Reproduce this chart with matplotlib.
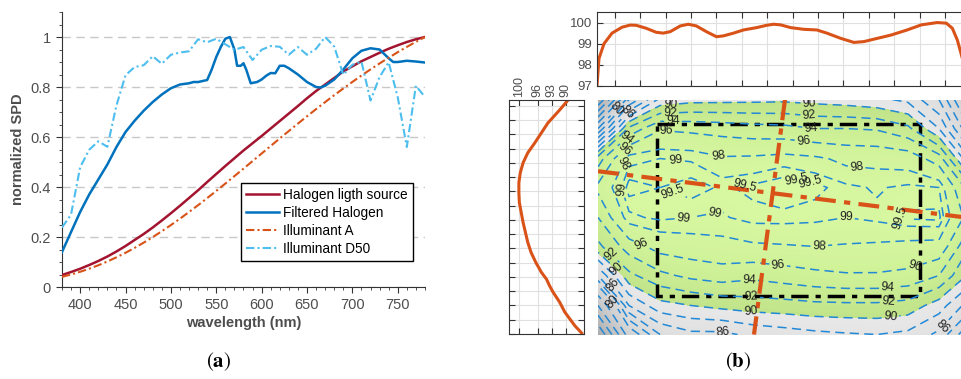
import numpy as np
import matplotlib.pyplot as plt
from matplotlib.colors import LinearSegmentedColormap
from matplotlib.patches import Rectangle

plt.rcParams['font.family'] = ['Liberation Sans', 'DejaVu Sans']

# ---------------- panel (a): normalized spectra ----------------
wl = np.arange(380, 781, 10)
halogen = [0.048, 0.060, 0.073, 0.088, 0.104, 0.122, 0.142, 0.164, 0.188, 0.212,
           0.238, 0.266, 0.295, 0.325, 0.356, 0.387, 0.420, 0.452, 0.484, 0.515,
           0.546, 0.575, 0.604, 0.634, 0.664, 0.694, 0.724, 0.755, 0.784, 0.810,
           0.836, 0.862, 0.883, 0.903, 0.920, 0.937, 0.953, 0.967, 0.980, 0.991, 1.0]
illum_a = [0.0405, 0.0500, 0.0609, 0.0732, 0.0869, 0.1021, 0.1188, 0.1369, 0.1564, 0.1774,
           0.1996, 0.2231, 0.2477, 0.2733, 0.3000, 0.3274, 0.3556, 0.3844, 0.4138, 0.4435,
           0.4735, 0.5037, 0.5339, 0.5642, 0.5943, 0.6241, 0.6537, 0.6828, 0.7115, 0.7397,
           0.7673, 0.7941, 0.8203, 0.8458, 0.8704, 0.8943, 0.9172, 0.9393, 0.9604, 0.9807, 1.0]
illum_d50 = [0.238, 0.290, 0.479, 0.549, 0.583, 0.561, 0.726, 0.847, 0.880, 0.887,
             0.923, 0.893, 0.929, 0.938, 0.943, 0.991, 0.979, 0.993, 0.971, 0.949,
             0.960, 0.908, 0.949, 0.964, 0.961, 0.929, 0.960, 0.929, 0.953, 1.0,
             0.962, 0.849, 0.889, 0.902, 0.746, 0.840, 0.899, 0.759, 0.560, 0.805, 0.760]

wl_filt = [380, 390, 400, 410, 420, 430, 440, 450, 460, 470, 480, 490, 500, 510, 520,
           525, 530, 540, 545, 550, 555, 560, 565, 570, 573, 577, 580, 583, 588, 595,
           600, 605, 610, 615, 620, 625, 630, 640, 650, 660, 665, 670, 680, 690, 700,
           710, 720, 730, 740, 745, 750, 760, 770, 780]
filtered = [0.14, 0.22, 0.30, 0.37, 0.43, 0.49, 0.56, 0.62, 0.665, 0.705, 0.74, 0.77,
            0.795, 0.81, 0.815, 0.82, 0.82, 0.828, 0.87, 0.92, 0.96, 0.993, 1.0, 0.95,
            0.885, 0.885, 0.895, 0.87, 0.815, 0.82, 0.83, 0.845, 0.856, 0.855, 0.885,
            0.885, 0.875, 0.85, 0.82, 0.80, 0.798, 0.805, 0.83, 0.87, 0.915, 0.945,
            0.955, 0.95, 0.915, 0.90, 0.90, 0.905, 0.902, 0.898]

# ---------------- panel (b): uniformity map (%) ----------------
map_u = [0, 31, 62, 93, 124, 155, 186, 217, 248, 279, 310, 341, 372]
map_v = [0, 29, 59, 88, 118, 147, 176, 206, 235]
map_vals = [
    [60, 82, 88.5, 89.3, 89.4, 89.5, 89.6, 89.3, 89.0, 88.5, 87.5, 84, 76],
    [80, 92.5, 95.8, 95.5, 95.2, 94.8, 94.6, 94.0, 94.0, 93.8, 92.5, 88, 80],
    [93, 98.7, 99.0, 98.9, 98.2, 98.3, 98.6, 98.3, 97.6, 97.5, 97.2, 95, 86],
    [96.5, 99.8, 99.5, 99.8, 99.4, 99.65, 100, 99.7, 99.2, 98.9, 99.2, 99.0, 93],
    [94, 98.8, 99.2, 99.0, 98.9, 99.3, 99.3, 99.2, 99.0, 99.2, 99.6, 99.7, 95],
    [91.5, 95, 96.8, 97.2, 97.5, 97.8, 97.9, 98.0, 97.9, 97.8, 97.6, 97.5, 92],
    [84, 91.5, 93.5, 94.5, 95, 94.5, 95.0, 95.5, 95.8, 95.8, 95.5, 94, 89.5],
    [72, 86, 89.3, 90.0, 90.6, 91.0, 91.2, 91.5, 91.6, 91.6, 91.2, 89, 85],
    [60, 78, 84, 85.5, 85.5, 86.5, 87, 87.5, 87.8, 88, 87.5, 85.5, 80],
]
plain_levels = [60, 64, 68, 72, 76, 82, 84, 88]
label_levels = [80, 86, 90, 92, 94, 96, 98, 99, 99.5]
# where the contour labels sit on the map (u, v)
label_spots = [(20, 11), (6, 210), (30, 14), (126, 228), (343, 225),
               (72, 3), (211, 9), (18, 183), (153, 210), (293, 222),
               (72, 11), (211, 18), (18, 170), (153, 198), (291, 208),
               (75, 20), (213, 29), (16, 152), (151, 178), (290, 190),
               (68, 30), (28, 38), (205, 46), (45, 142), (180, 167), (318, 172),
               (27, 51), (121, 53), (258, 74), (86, 125), (221, 143),
               (25, 64), (78, 61), (213, 78), (115, 104), (248, 118),
               (26, 89), (75, 91), (146, 83), (208, 89), (298, 117)]

# profile along the horizontal section
prof_h_u = [0, 2, 7, 15, 25, 33, 39, 49, 59, 66, 73, 83, 91, 99, 109, 119, 126, 136,
            146, 159, 169, 176, 183, 193, 206, 219, 229, 243, 256, 266, 279, 293, 309,
            323, 339, 348, 354, 359, 364, 372]
prof_h_val = [97.0, 98.3, 99.0, 99.5, 99.78, 99.88, 99.87, 99.73, 99.54, 99.5, 99.57,
              99.84, 99.92, 99.84, 99.57, 99.33, 99.37, 99.5, 99.65, 99.76, 99.87, 99.92,
              99.89, 99.76, 99.68, 99.65, 99.5, 99.25, 99.06, 99.1, 99.25, 99.41, 99.65,
              99.89, 100.0, 99.97, 99.73, 99.17, 98.3, 96.8]
# profile along the vertical section
prof_v_v = [0, 10, 23, 33, 43, 53, 63, 73, 83, 93, 103, 113, 123, 133, 143, 153, 163,
            173, 180, 187, 193, 203, 213, 220, 227, 234]
prof_v_val = [89.5, 91.3, 93.8, 95.2, 96.6, 98.1, 99.1, 99.7, 100, 100, 99.9, 99.5, 99.1,
              98.6, 98.1, 97.4, 96.4, 95.2, 94.1, 93.4, 92.7, 91.3, 90.2, 89.1, 88, 86.6]

# section lines and region of interest on the map
sec_h_u, sec_h_v = [0, 372], [71.7, 118.5]
sec_v_u, sec_v_v = [187, 156], [0, 235]
roi_u = [58.7, 322.0]
roi_v = [24.3, 196.7]

# ---------------- figure ----------------
fig = plt.figure(figsize=(9.61, 3.79), dpi=100)
tick_c = '#4d4d4d'
spine_c = '#333333'
orange = '#d95319'

ax = fig.add_axes([0.0645, 0.2427, 0.3777, 0.7256])
ax.plot(wl, halogen, color='#a2142f', lw=1.8, label='Halogen ligth source', zorder=3)
ax.plot(wl_filt, filtered, color='#0072bd', lw=1.8, label='Filtered Halogen', zorder=3)
ax.plot(wl, illum_a, color=orange, lw=1.5, ls=(0, (4, 1.5, 1, 1.5)), label='Illuminant A', zorder=3)
ax.plot(wl, illum_d50, color='#4dbeee', lw=1.5, ls=(0, (4, 1.5, 1, 1.5)), label='Illuminant D50', zorder=3)
ax.set_xlim(380, 780)
ax.set_ylim(0, 1.1)
ax.set_yticks([0, 0.2, 0.4, 0.6, 0.8, 1.0])
ax.set_yticklabels(['0', '0.2', '0.4', '0.6', '0.8', '1'])
ax.set_yticks(np.arange(0, 1.101, 0.05), minor=True)
ax.set_xticks(np.arange(400, 751, 50))
ax.set_xticks(np.arange(380, 781, 10), minor=True)
ax.yaxis.grid(True, ls=(0, (6, 4)), color='#c8c8c8', lw=1)
ax.set_axisbelow(True)
for s in ['top', 'right']:
    ax.spines[s].set_visible(False)
for s in ['left', 'bottom']:
    ax.spines[s].set_color(spine_c)
ax.tick_params(which='major', direction='out', length=4.5, color=spine_c, labelcolor=tick_c, labelsize=10.5)
ax.tick_params(which='minor', direction='out', length=2.5, color=spine_c)
ax.set_xlabel('wavelength (nm)', fontsize=10.5, fontweight='bold', color=tick_c, labelpad=3)
ax.set_ylabel('normalized SPD', fontsize=10.5, fontweight='bold', color=tick_c, labelpad=4)
leg = ax.legend(loc='lower right', bbox_to_anchor=(0.985, 0.07), fontsize=9.8,
                handlelength=2.4, handletextpad=0.35, labelspacing=0.3, borderpad=0.35,
                fancybox=False, framealpha=1, edgecolor='black')
leg.get_frame().set_linewidth(1.0)

# map
cmap = LinearSegmentedColormap.from_list('unif', [
    (0.0, '#6a7280'), (0.1556, '#b0b0b0'), (0.5556, '#d6d6d6'), (0.7776, '#e8e8e8'),
    (0.7778, '#c0e288'), (0.89, '#cdf096'), (1.0, '#d8f8a2')])
axm = fig.add_axes([0.6223, 0.1174, 0.387, 0.620])
axm.contourf(map_u, map_v, map_vals, levels=np.arange(55, 100.3, 0.25),
             cmap=cmap, vmin=55, vmax=100, extend='both')
dash = [(0, (6, 3.5))]
axm.contour(map_u, map_v, map_vals, levels=plain_levels, colors='#2389d6',
            linewidths=1.1, linestyles=dash)
cs = axm.contour(map_u, map_v, map_vals, levels=label_levels, colors='#2389d6',
                 linewidths=1.1, linestyles=dash)
axm.clabel(cs, fmt='%g', fontsize=8.8, colors='#222222',
           inline=True, inline_spacing=2, manual=label_spots)
axm.plot(sec_h_u, sec_h_v, color=orange, lw=3, ls=(0, (5, 2, 1.5, 2)))
axm.plot(sec_v_u, sec_v_v, color=orange, lw=3, ls=(0, (5, 2, 1.5, 2)))
axm.add_patch(Rectangle((roi_u[0], roi_v[0]), roi_u[1] - roi_u[0], roi_v[1] - roi_v[0],
                        fill=False, ec='black', lw=2.5, ls=(0, (5, 2, 1.5, 2))))
axm.set_xlim(0, 372)
axm.set_ylim(235, 0)
axm.axis('off')

# top profile
axt = fig.add_axes([0.6212, 0.7731, 0.3886, 0.1953])
axt.plot(prof_h_u, prof_h_val, color=orange, lw=2.2)
axt.set_xlim(0, 372)
axt.set_ylim(97, 100.5)
axt.set_yticks([97, 98, 99, 100])
axt.set_xticks(np.arange(17.7, 372, 25.3))
axt.set_xticklabels([])
axt.grid(True, color='#e0e0e0', lw=0.8)
axt.set_axisbelow(True)
axt.tick_params(direction='in', top=True, right=True, length=4, color=spine_c,
                labelcolor=tick_c, labelsize=9.5)
for s in axt.spines.values():
    s.set_color(spine_c)

# side profile
axl = fig.add_axes([0.5297, 0.1187, 0.078, 0.6174])
axl.plot(prof_v_val, prof_v_v, color=orange, lw=2.2)
axl.set_xlim(102.1, 86.1)
axl.set_ylim(235, 0)
axl.set_xticks([100, 96, 93, 90])
axl.set_yticks(np.arange(6, 235, 14.3))
axl.set_yticklabels([])
axl.xaxis.tick_top()
axl.grid(True, color='#e0e0e0', lw=0.8)
axl.set_axisbelow(True)
axl.tick_params(direction='in', top=True, bottom=True, left=True, right=True,
                length=4, color=spine_c, labelcolor=tick_c, labelsize=9, pad=2)
for lab in axl.get_xticklabels():
    lab.set_rotation(90)
for s in axl.spines.values():
    s.set_color(spine_c)

fig.text(0.227, 0.032, r'$(\mathbf{a})$', fontsize=15, ha='center', math_fontfamily='stix')
fig.text(0.768, 0.032, r'$(\mathbf{b})$', fontsize=15, ha='center', math_fontfamily='stix')

fig.savefig('out.png', dpi=100)
